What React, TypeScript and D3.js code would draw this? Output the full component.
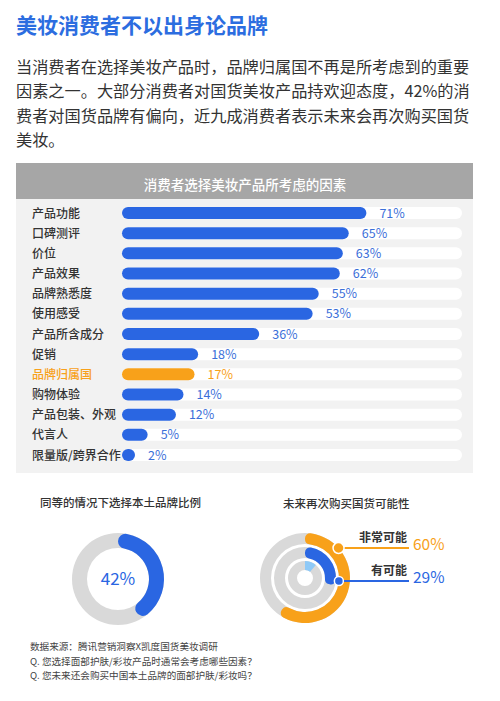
import React from 'react';
import * as d3 from 'd3';

const FONT = '"Noto Sans CJK SC", "Noto Sans", sans-serif';
const BLUE = '#2a66e2';
const ORANGE = '#f8a11a';
const GREY = '#d9d9d9';
const LIGHT_BLUE = '#8ec9f7';

const title = '美妆消费者不以出身论品牌';
const intro = [
  '当消费者在选择美妆产品时，品牌归属国不再是所考虑到的重要',
  '因素之一。大部分消费者对国货美妆产品持欢迎态度，42%的消',
  '费者对国货品牌有偏向，近九成消费者表示未来会再次购买国货',
  '美妆。',
];

const barTitle = '消费者选择美妆产品所考虑的因素';
const factors = [
  '产品功能', '口碑测评', '价位', '产品效果', '品牌熟悉度', '使用感受', '产品所含成分',
  '促销', '品牌归属国', '购物体验', '产品包装、外观', '代言人', '限量版/跨界合作',
];
const factorValues = [71, 65, 63, 62, 55, 53, 36, 18, 17, 14, 12, 5, 2];
const highlight = '品牌归属国';

const localTitle = '同等的情况下选择本土品牌比例';
const localShare = 42;

const rebuyTitle = '未来再次购买国货可能性';
const rebuyLabels = ['非常可能', '有可能', '其他'];
const rebuyValues = [60, 29, 11];

const notes = [
  '数据来源：腾讯营销洞察X凯度国货美妆调研',
  'Q. 您选择面部护肤/彩妆产品时通常会考虑哪些因素？',
  'Q. 您未来还会购买中国本土品牌的面部护肤/彩妆吗？',
];

export default function App() {
  // bar chart
  const trackX = 122;
  const trackW = 340;
  const barH = 12;
  const y = d3.scalePoint<string>().domain(factors).range([213, 455]);
  const x = d3.scalePow().exponent(0.85).domain([0, 100]).range([0, 327]);
  const bw = (v: number) => Math.max(barH + 1, x(v));

  // left donut
  const pct = d3.scaleLinear().domain([0, 100]).range([0, 2 * Math.PI]);
  const c1 = { x: 118, y: 579 };
  const ring1 = d3.arc<any>().innerRadius(31).outerRadius(46);

  // right rings
  const c2 = { x: 305, y: 578 };
  const rings = [
    { inner: 34, outer: 45, color: ORANGE },
    { inner: 20, outer: 31, color: BLUE },
    { inner: 8, outer: 17, color: LIGHT_BLUE },
  ];
  const leaderY = [548, 581];
  const leaderEnd = 409;

  return (
    <svg width={500} height={701} style={{ position: 'absolute', left: 0, top: 0, background: '#fff' }} fontFamily={FONT}>
      <text x={16} y={33} fontSize={21} fontWeight={700} fill="#2c6de0">{title}</text>
      {intro.map((t, i) => (
        <text key={i} x={16} y={73 + i * 24.3} fontSize={16.2} fill="#333">{t}</text>
      ))}

      {/* factor panel */}
      <rect x={16} y={163} width={457} height={310} fill="#f2f2f2" />
      <rect x={16} y={163} width={457} height={36} fill="#a6a6a6" />
      <text x={245} y={190} fontSize={13.5} fontWeight={500} fill="#fff" textAnchor="middle">{barTitle}</text>
      {factors.map((f, i) => {
        const cy = y(f)!;
        const v = factorValues[i];
        const col = f === highlight ? ORANGE : BLUE;
        return (
          <g key={f}>
            <text x={32} y={cy + 4.5} fontSize={12} fontWeight={500} fill={f === highlight ? ORANGE : '#333'}>{f}</text>
            <rect x={trackX} y={cy - barH / 2} width={trackW} height={barH} rx={barH / 2} fill="#fff" />
            <rect x={trackX} y={cy - barH / 2} width={bw(v)} height={barH} rx={barH / 2} fill={col} />
            <text x={trackX + bw(v) + 13} y={cy + 4.5} fontSize={12.5} fill={f === highlight ? ORANGE : '#3b6fd9'}>{v}%</text>
          </g>
        );
      })}

      {/* local brand share */}
      <text x={40} y={507} fontSize={11.5} fontWeight={500} fill="#333">{localTitle}</text>
      <g transform={`translate(${c1.x},${c1.y})`}>
        <path d={ring1({ startAngle: 0, endAngle: 2 * Math.PI })!} fill={GREY} />
        <path d={ring1.cornerRadius(7.5)({ startAngle: 0, endAngle: pct(localShare) })!} fill={BLUE} />
        <text x={0} y={6} fontSize={17} fill={BLUE} textAnchor="middle">{localShare}%</text>
      </g>

      {/* rebuy likelihood */}
      <text x={283} y={508} fontSize={11.5} fontWeight={500} fill="#333">{rebuyTitle}</text>
      <g transform={`translate(${c2.x},${c2.y})`}>
        {rings.map((r, i) => {
          const a = d3.arc<any>().innerRadius(r.inner).outerRadius(r.outer);
          return (
            <g key={i}>
              <path d={a({ startAngle: 0, endAngle: 2 * Math.PI })!} fill={GREY} />
              <path d={a.cornerRadius(i < 2 ? 5 : 0)({ startAngle: 0, endAngle: pct(rebuyValues[i]) })!} fill={r.color} />
            </g>
          );
        })}
      </g>
      {[0, 1].map((i) => {
        const r = rings[i];
        const rr = i === 0 ? r.outer : r.outer + 3;
        const dy = leaderY[i] - c2.y;
        const dotX = c2.x + Math.sqrt(rr * rr - dy * dy);
        const col = r.color;
        return (
          <g key={i}>
            <line x1={dotX} x2={leaderEnd} y1={leaderY[i]} y2={leaderY[i]} stroke={col} strokeWidth={2} />
            <circle cx={dotX} cy={leaderY[i]} r={i === 0 ? 5.5 : 4.5} fill={col} stroke="#fff" strokeWidth={1.5} />
            <text x={leaderEnd - 2} y={leaderY[i] - 6} fontSize={12} fontWeight={700} fill="#333" textAnchor="end">{rebuyLabels[i]}</text>
            <text x={leaderEnd + 4} y={leaderY[i] + 2} fontSize={15.5} fill={col}>{rebuyValues[i]}%</text>
          </g>
        );
      })}

      {notes.map((n, i) => (
        <text key={i} x={30} y={650 + i * 14.5} fontSize={9.6} fill="#444">{n}</text>
      ))}
    </svg>
  );
}
